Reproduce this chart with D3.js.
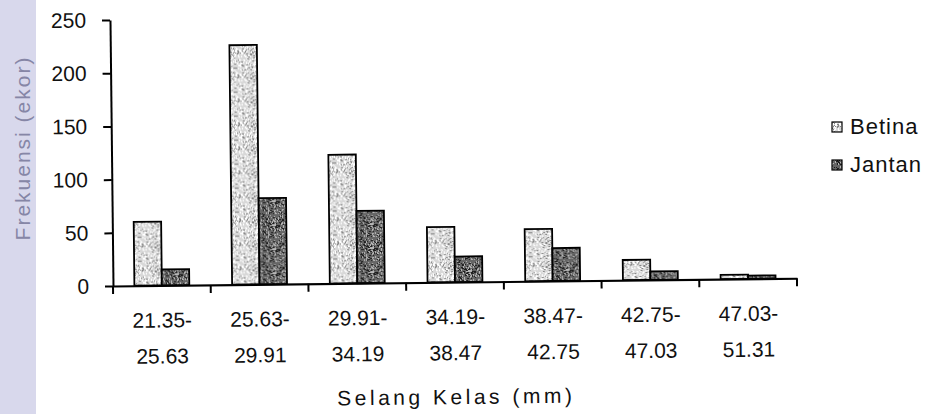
<!DOCTYPE html>
<html>
<head>
<meta charset="utf-8">
<script src="https://cdn.jsdelivr.net/npm/d3@7"></script>
<style>
  html, body { margin: 0; padding: 0; background: #fff; }
  svg { display: block; font-family: "Liberation Sans", Arial, sans-serif; }
</style>
</head>
<body>
<svg id="chart" width="927" height="414"></svg>
<script>
// Class intervals (mm): lower and upper bound of each class
const lowerBounds = ["21.35", "25.63", "29.91", "34.19", "38.47", "42.75", "47.03"];
const upperBounds = ["25.63", "29.91", "34.19", "38.47", "42.75", "47.03", "51.31"];
const categories = lowerBounds.map((l, i) => l + "-" + upperBounds[i]);

// Frequency (individuals) per class
const seriesNames = ["Betina", "Jantan"];
const betina = [60, 225, 121, 52, 49, 19, 4];
const jantan = [15, 81, 68, 24, 31, 8, 3];

const yTicks = [0, 50, 100, 150, 200, 250];

const svg = d3.select("#chart");
const defs = svg.append("defs");

// Stippled fills built from a fixed speckle generator
function speckle(id, base, dark, light, size, nDark, nLight, seed) {
  let s = seed;
  const next = () => { s = (s * 1103515245 + 12345) % 2147483648; return s / 2147483648; };
  const p = defs.append("pattern").attr("id", id).attr("patternUnits", "userSpaceOnUse")
    .attr("width", size).attr("height", size);
  p.append("rect").attr("width", size).attr("height", size).attr("fill", base);
  for (let i = 0; i < nDark; i++) {
    p.append("rect").attr("x", Math.floor(next() * size)).attr("y", Math.floor(next() * size))
      .attr("width", 1 + Math.floor(next() * 2)).attr("height", 1).attr("fill", dark);
  }
  for (let i = 0; i < nLight; i++) {
    p.append("rect").attr("x", Math.floor(next() * size)).attr("y", Math.floor(next() * size))
      .attr("width", 1).attr("height", 1 + Math.floor(next() * 2)).attr("fill", light);
  }
}
speckle("fillBetina", "#d8d8d8", "#858585", "#ffffff", 24, 85, 130, 7);
speckle("fillJantan", "#666666", "#1e1e1e", "#b8b8b8", 24, 120, 90, 19);
const fills = { Betina: "url(#fillBetina)", Jantan: "url(#fillJantan)" };

// Left margin strip with the y-axis title
svg.append("rect").attr("x", 0).attr("y", 0).attr("width", 36).attr("height", 414).attr("fill", "#d8d8ec");
svg.append("text")
  .attr("transform", "translate(30,148) rotate(-90)")
  .attr("text-anchor", "middle")
  .attr("font-size", 21)
  .attr("letter-spacing", 2)
  .attr("fill", "#8686a6")
  .text("Frekuensi (ekor)");

// Plot area, tilted very slightly as in the printed figure
const x0 = 113, x1 = 797, yBase = 286, yTop = 20;
const g = svg.append("g").attr("transform", `rotate(-0.65, ${x0}, ${yBase})`);

const x = d3.scaleBand().domain(categories).range([x0, x1]).paddingInner(0).paddingOuter(0);
const xs = d3.scaleBand().domain(seriesNames).range([0, x.bandwidth()]).paddingInner(0).paddingOuter(0.78);
const y = d3.scaleLinear().domain([0, 250]).range([yBase, yTop]);

// Bars
const rows = categories.map((c, i) => ({ cat: c, values: [
  { name: "Betina", v: betina[i] }, { name: "Jantan", v: jantan[i] }] }));
g.selectAll("g.grp").data(rows).join("g").attr("class", "grp")
  .attr("transform", d => `translate(${x(d.cat)},0)`)
  .selectAll("rect").data(d => d.values).join("rect")
  .attr("x", d => xs(d.name))
  .attr("width", xs.bandwidth())
  .attr("y", d => y(d.v))
  .attr("height", d => y(0) - y(d.v))
  .attr("fill", d => fills[d.name])
  .attr("stroke", "#000")
  .attr("stroke-width", 1.8);

// Y axis
const yAxis = g.append("g").attr("transform", `translate(${x0},0)`)
  .call(d3.axisLeft(y).tickValues(yTicks).tickSize(8).tickPadding(16).tickSizeOuter(0));
yAxis.select(".domain").attr("stroke", "#000").attr("stroke-width", 2);
yAxis.selectAll(".tick line").attr("stroke", "#000").attr("stroke-width", 2);
yAxis.selectAll(".tick text").attr("font-size", 21).attr("fill", "#111")
  .attr("font-family", "Liberation Sans, Arial, sans-serif");

// X axis: baseline, boundary ticks and two-line class labels
const xAxis = g.append("g").attr("transform", `translate(0,${yBase})`)
  .call(d3.axisBottom(x).tickSize(0).tickPadding(0).tickSizeOuter(0));
xAxis.select(".domain").attr("stroke", "#000").attr("stroke-width", 2.2);
xAxis.selectAll(".tick text").remove();
const bounds = categories.map(c => x(c)).concat([x1]);
xAxis.selectAll("line.bound").data(bounds).join("line").attr("class", "bound")
  .attr("x1", d => d).attr("x2", d => d).attr("y1", 0).attr("y2", 8)
  .attr("stroke", "#000").attr("stroke-width", 2);
const lbl = xAxis.selectAll("text.cls").data(categories).join("text").attr("class", "cls")
  .attr("text-anchor", "middle").attr("font-size", 21).attr("fill", "#111")
  .attr("font-family", "Liberation Sans, Arial, sans-serif");
lbl.append("tspan").attr("x", d => x(d) + x.bandwidth() / 2).attr("y", 42).text((d, i) => lowerBounds[i] + "-");
lbl.append("tspan").attr("x", d => x(d) + x.bandwidth() / 2).attr("y", 78).text((d, i) => upperBounds[i]);

// X-axis title
g.append("text").attr("x", (x0 + x1) / 2).attr("y", 408).attr("text-anchor", "middle")
  .attr("font-size", 21).attr("letter-spacing", 3.5).attr("fill", "#111").text("Selang Kelas (mm)");

// Legend
const legend = svg.append("g").attr("transform", "translate(832,0)");
const legendY = { Betina: 127, Jantan: 165 };
seriesNames.forEach(n => {
  legend.append("rect").attr("x", 0).attr("y", legendY[n] - 5).attr("width", 10).attr("height", 10)
    .attr("fill", fills[n]).attr("stroke", "#000").attr("stroke-width", 1.2);
  legend.append("text").attr("x", 18).attr("y", legendY[n] + 7).attr("font-size", 22)
    .attr("letter-spacing", 1).attr("fill", "#111").text(n);
});
</script>
</body>
</html>
